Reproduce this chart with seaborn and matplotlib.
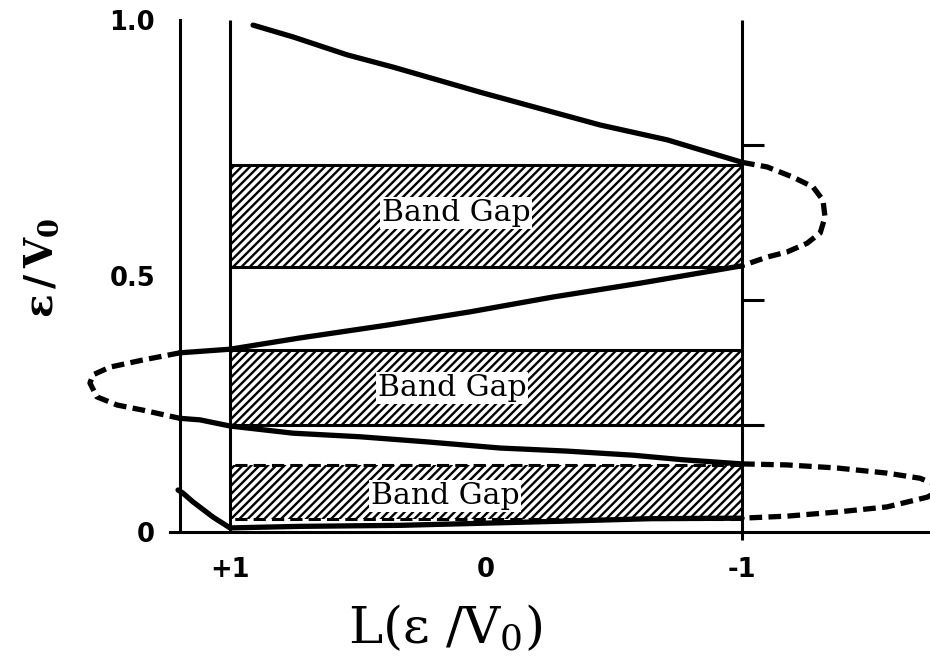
import numpy as np
import pandas as pd
import matplotlib
matplotlib.use("Agg")
import matplotlib.pyplot as plt
import seaborn as sns

# ---- data -------------------------------------------------------------
# L(eps/V0) curve, traced branch by branch (L, eps/V0)
top_L = [0.91, 0.754, 0.543, 0.363, 0.023, -0.445, -0.707, -1.0]
top_eps = [0.99, 0.967, 0.932, 0.908, 0.859, 0.795, 0.766, 0.722]

upper_loop_L = [-1.0, -1.098, -1.199, -1.277, -1.316, -1.324, -1.305, -1.254, -1.176, -1.098, -1.0]
upper_loop_eps = [0.722, 0.713, 0.693, 0.674, 0.648, 0.615, 0.584, 0.564, 0.547, 0.537, 0.520]

mid1_L = [-1.0, -0.602, -0.262, 0.0625, 0.387, 0.727, 1.0, 1.195]
mid1_eps = [0.520, 0.486, 0.459, 0.430, 0.404, 0.379, 0.357, 0.350]

left_loop_L = [1.195, 1.340, 1.469, 1.535, 1.547, 1.520, 1.441, 1.340, 1.223, 1.195]
left_loop_eps = [0.350, 0.336, 0.322, 0.307, 0.291, 0.264, 0.248, 0.238, 0.225, 0.222]

mid2_L = [1.195, 1.117, 1.0, 0.754, 0.492, 0.230, -0.055, -0.316, -0.574, -0.770, -1.0]
mid2_eps = [0.222, 0.219, 0.207, 0.193, 0.186, 0.176, 0.164, 0.158, 0.150, 0.141, 0.133]

lower_loop_L = [-1.0, -1.176, -1.371, -1.566, -1.695, -1.79, -1.723, -1.566, -1.371, -1.176, -1.0]
lower_loop_eps = [0.133, 0.131, 0.125, 0.115, 0.105, 0.086, 0.068, 0.049, 0.039, 0.031, 0.027]

bottom_L = [-1.0, -0.641, -0.289, 0.023, 0.336, 0.727, 1.0, 1.066, 1.145, 1.184, 1.203]
bottom_eps = [0.027, 0.026, 0.021, 0.017, 0.013, 0.011, 0.008, 0.029, 0.059, 0.076, 0.082]

# band gaps (lower, upper eps/V0) and their label anchors
gap_low = [0.518, 0.209, 0.025]
gap_high = [0.717, 0.355, 0.131]
gap_dashed = [False, False, True]
gap_label = "Band Gap"
gap_label_L = [0.117, 0.133, 0.160]
gap_label_eps = [0.623, 0.281, 0.070]

# small marks on the L = -1 line
right_marks = [0.756, 0.453, 0.209]

x_ticks = [1, 0, -1]
x_ticklabels = ["+1", "0", "-1"]
y_ticks = [0, 0.25, 0.5, 0.75, 1.0]
y_ticklabels = ["0", "", "0.5", "", "1.0"]

# ---- assemble curve table ----------------------------------------------
branches = [
    ("top", "allowed", top_L, top_eps),
    ("upper_loop", "forbidden", upper_loop_L, upper_loop_eps),
    ("mid1", "allowed", mid1_L, mid1_eps),
    ("left_loop", "forbidden", left_loop_L, left_loop_eps),
    ("mid2", "allowed", mid2_L, mid2_eps),
    ("lower_loop", "forbidden", lower_loop_L, lower_loop_eps),
    ("bottom", "allowed", bottom_L, bottom_eps),
]
rows = []
for name, kind, Ls, es in branches:
    for i, (l, e) in enumerate(zip(Ls, es)):
        rows.append({"branch": name, "kind": kind, "order": i, "L": l, "eps": e})
curve = pd.DataFrame(rows)

# ---- style ----------------------------------------------------------------
sns.set_style("white")
plt.rcParams["font.family"] = ["DejaVu Sans"]
plt.rcParams["mathtext.fontset"] = "dejavuserif"
plt.rcParams["hatch.linewidth"] = 1.7
plt.rcParams["hatch.color"] = "black"
for key in ("text.color", "axes.labelcolor", "xtick.color", "ytick.color",
            "xtick.labelcolor", "ytick.labelcolor"):
    plt.rcParams[key] = "black"

fig = plt.figure(figsize=(9.3, 6.6), dpi=100)
W, H = 930, 660
# axes spans pixel x 80..930 and y 20..532
ax = fig.add_axes([80 / W, (H - 532) / H, 850 / W, 512 / H])
ax.set_xlim(1.5859, -1.734)
ax.set_ylim(0, 1.0)

# hatched band gaps
for lo, hi, dashed in zip(gap_low, gap_high, gap_dashed):
    ax.fill_betweenx([lo, hi], 1.0, -1.0, facecolor="white", edgecolor="black",
                     hatch="////", linewidth=0, zorder=1)
    ls = (0, (4, 2)) if dashed else "-"
    ax.hlines([lo, hi], -1.0, 1.0, colors="black", linewidth=2.2, linestyles=ls, zorder=2)

for lx, ly in zip(gap_label_L, gap_label_eps):
    ax.text(lx, ly, gap_label, ha="center", va="center", fontsize=21.5,
            family="DejaVu Serif", color="black", zorder=4,
            bbox=dict(facecolor="white", edgecolor="none", pad=1.5))

# L = +1 and L = -1 boundaries
ax.vlines(1.0, 0, 1.0, colors="black", linewidth=2.2, zorder=3, clip_on=False)
ax.vlines(-1.0, -0.016, 1.0, colors="black", linewidth=2.2, zorder=3, clip_on=False)
ax.hlines(right_marks, -1.0, -1.085, colors="black", linewidth=2.2, zorder=3)

# the curve: solid where allowed, dashed beyond the bounds
sns.lineplot(data=curve, x="L", y="eps", units="branch", style="kind",
             estimator=None, sort=False, color="black", linewidth=3.8,
             dashes={"allowed": "", "forbidden": (2.4, 1.2)},
             legend=False, ax=ax, zorder=5)

# axes frame
for side in ("top", "right"):
    ax.spines[side].set_visible(False)
ax.spines["left"].set_position(("data", 1.195))
ax.spines["left"].set_bounds(0, 1.0)
ax.spines["bottom"].set_bounds(-1.734, 1.234)
for side in ("left", "bottom"):
    ax.spines[side].set_linewidth(2.2)
    ax.spines[side].set_color("black")

ax.set_xticks(x_ticks)
ax.set_xticklabels(x_ticklabels, fontsize=18.5, fontweight="bold")
ax.set_yticks(y_ticks)
ax.set_yticklabels(y_ticklabels, fontsize=18.5, fontweight="bold")
ax.tick_params(axis="y", direction="in", length=10.8, width=2.2, pad=18, color="black")
ax.tick_params(axis="x", direction="in", length=7, width=2.2, pad=18, color="black")

ax.set_xlabel(r"$\mathrm{L(\varepsilon\ /V_0)}$", fontsize=37)
ax.xaxis.set_label_coords(0.429, -0.19)
ax.xaxis.label.set_verticalalignment("center")
ax.set_ylabel(r"$\mathbf{\varepsilon\,/\,V_0}$", fontsize=28)
ax.yaxis.set_label_coords(-0.045, 0.516)
ax.yaxis.label.set_verticalalignment("center")

fig.savefig("out.png", dpi=100, facecolor="white")
